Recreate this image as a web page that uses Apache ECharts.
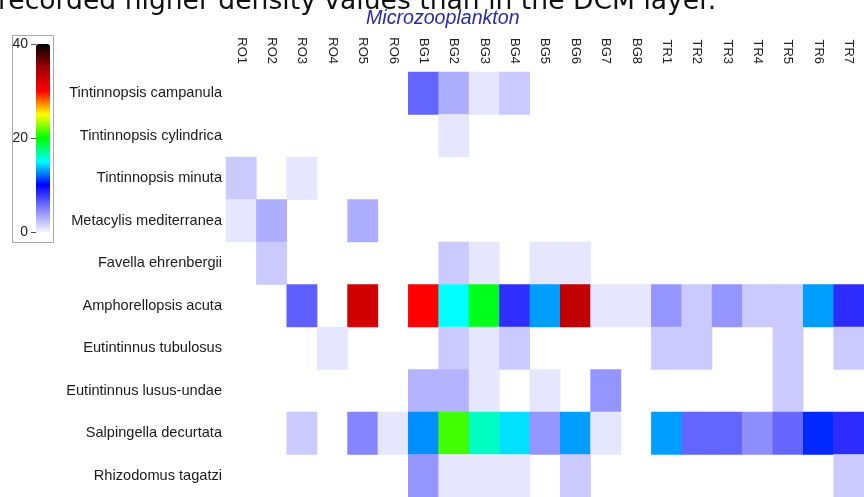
<!DOCTYPE html>
<html>
<head>
<meta charset="utf-8">
<script src="https://cdn.jsdelivr.net/npm/echarts@6/dist/echarts.min.js"></script>
<style>
  html, body { margin: 0; padding: 0; background: #ffffff; }
  #chart { width: 864px; height: 497px; }
</style>
</head>
<body>
<div id="chart"></div>
<script>
// Sampling stations (columns) and taxa (rows)
const stations = ['RO1','RO2','RO3','RO4','RO5','RO6','BG1','BG2','BG3','BG4','BG5','BG6','BG7','BG8','TR1','TR2','TR3','TR4','TR5','TR6','TR7'];
const species = [
  'Tintinnopsis campanula',
  'Tintinnopsis cylindrica',
  'Tintinnopsis minuta',
  'Metacylis mediterranea',
  'Favella ehrenbergii',
  'Amphorellopsis acuta',
  'Eutintinnus tubulosus',
  'Eutintinnus lusus-undae',
  'Salpingella decurtata',
  'Rhizodomus tagatzi'
];

// Density per station, one array per taxon (null = not recorded)
//                         RO1  RO2  RO3  RO4  RO5   RO6  BG1  BG2  BG3  BG4  BG5  BG6  BG7  BG8  TR1  TR2  TR3  TR4  TR5  TR6  TR7
const tintinnopsisCampanula = [null,null,null,null,null, null,6.1, 3.0, 0.6, 1.8, null,null,null,null,null,null,null,null,null,null,null];
const tintinnopsisCylindrica= [null,null,null,null,null, null,null,0.6, null,null,null,null,null,null,null,null,null,null,null,null,null];
const tintinnopsisMinuta    = [1.8, null,0.6, null,null, null,null,null,null,null,null,null,null,null,null,null,null,null,null,null,null];
const metacylisMediterranea = [0.6, 3.0, null,null,3.0,  null,null,null,null,null,null,null,null,null,null,null,null,null,null,null,null];
const favellaEhrenbergii    = [null,1.8, null,null,null, null,null,1.8, 0.6, null,0.6, 0.6, null,null,null,null,null,null,null,null,null];
const amphorellopsisAcuta   = [null,null,6.3, null,32.5, null,30.0,15.0,19.5,8.2, 13.1,33.3,0.6, 0.6, 4.1, 1.8, 4.1, 1.8, 1.8, 13.1,8.3];
const eutintinnusTubulosus  = [null,null,null,0.6, null, null,null,1.8, 0.6, 1.8, null,null,null,null,1.8, 1.8, null,null,1.8, null,1.8];
const eutintinnusLusus      = [null,null,null,null,null, null,2.8, 2.8, 0.6, null,0.6, null,4.1, null,null,null,null,null,1.8, null,null];
const salpingellaDecurtata  = [null,null,1.8, null,4.8,  0.6, 12.8,21.3,16.2,14.4,4.1, 13.1,0.6, null,13.1,6.1, 6.1, 4.4, 6.0, 10.8,8.3];
const rhizodomusTagatzi     = [null,null,null,null,null, null,4.1, 0.6, 0.6, 0.6, null,1.8, null,null,null,null,null,null,null,null,1.8];

const rows = [
  tintinnopsisCampanula, tintinnopsisCylindrica, tintinnopsisMinuta, metacylisMediterranea,
  favellaEhrenbergii, amphorellopsisAcuta, eutintinnusTubulosus, eutintinnusLusus,
  salpingellaDecurtata, rhizodomusTagatzi
];

// Colour scale ticks
const scaleTicks = [0, 20, 40];

// Heatmap triples [station, taxon, value]
const cells = [];
rows.forEach((vals, r) => {
  vals.forEach((v, c) => {
    if (v !== null) cells.push([c, r, v]);
  });
});

const chart = echarts.init(document.getElementById('chart'), null, { renderer: 'canvas' });

const labelFont = 'Liberation Sans, Arial, sans-serif';

chart.setOption({
  animation: false,
  backgroundColor: '#ffffff',
  title: [
    {
      text: 'recorded higher density values than in the DCM layer.',
      left: -2,
      top: -11,
      padding: 0,
      textStyle: { fontFamily: 'DejaVu Sans', fontSize: 26.6, fontWeight: 'normal', color: '#111111' }
    },
    {
      text: 'Microzooplankton',
      left: 366,
      top: 9,
      padding: 0,
      textStyle: { fontFamily: labelFont, fontSize: 19.6, fontStyle: 'italic', fontWeight: 'normal', color: '#2a2aa8' }
    }
  ],
  graphic: [
    {
      type: 'rect',
      shape: { x: 12.5, y: 35.5, width: 41, height: 207 },
      style: { fill: 'none', stroke: '#a8a8a8', lineWidth: 1 },
      silent: true
    }
  ],
  grid: [
    { left: 226, top: 72, width: 649, height: 426, containLabel: false },
    { left: 36, top: 44, width: 14, height: 188, containLabel: false }
  ],
  xAxis: [
    {
      type: 'category',
      gridIndex: 0,
      data: stations,
      position: 'top',
      axisLine: { show: false },
      axisTick: { show: false },
      splitLine: { show: false },
      axisLabel: { rotate: 90, margin: 8, fontFamily: labelFont, fontSize: 13, color: '#222222', interval: 0 }
    },
    {
      type: 'value',
      gridIndex: 1,
      show: false
    }
  ],
  yAxis: [
    {
      type: 'category',
      gridIndex: 0,
      data: species,
      inverse: true,
      axisLine: { show: false },
      axisTick: { show: false },
      splitLine: { show: false },
      axisLabel: { margin: 4, fontFamily: labelFont, fontSize: 14.6, color: '#1a1a1a', interval: 0 }
    },
    {
      type: 'value',
      gridIndex: 1,
      min: scaleTicks[0],
      max: scaleTicks[scaleTicks.length - 1],
      interval: 20,
      axisLine: { show: false },
      axisTick: { show: true, length: 5, inside: false, lineStyle: { color: '#555555' } },
      splitLine: { show: false },
      axisLabel: { margin: 8, fontFamily: labelFont, fontSize: 14, color: '#222222' }
    }
  ],
  visualMap: {
    type: 'continuous',
    min: 0,
    max: 40,
    seriesIndex: 0,
    calculable: false,
    realtime: false,
    orient: 'vertical',
    left: 36,
    top: 44,
    itemWidth: 14,
    itemHeight: 188,
    padding: 0,
    text: null,
    showLabel: false,
    hoverLink: false,
    inRange: {
      color: ['#f4f4ff', '#8080ff', '#0000ff', '#00ffff', '#00ff00', '#ffff00', '#ff0000', '#a00000', '#000000']
    }
  },
  series: [
    {
      type: 'heatmap',
      xAxisIndex: 0,
      yAxisIndex: 0,
      data: cells,
      itemStyle: { borderWidth: 0 },
      emphasis: { disabled: true }
    }
  ]
});
</script>
</body>
</html>
